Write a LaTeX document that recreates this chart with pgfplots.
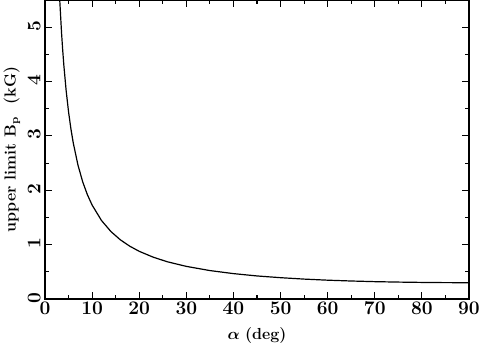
\documentclass[border=0pt]{standalone}
\usepackage{pgfplots}
\pgfplotsset{compat=1.18}
\usepackage{bm}

\begin{document}
\begin{tikzpicture}[x=1pt,y=1pt]
  \begin{axis}[
    scale only axis,
    width=318pt,
    height=224.25pt,
    xmin=0, xmax=90,
    ymin=0, ymax=5.5,
    xtick={0,10,...,90},
    ytick={0,1,...,5},
    minor x tick num=1,
    minor y tick num=1,
    tick align=inside,
    major tick length=5pt,
    minor tick length=3pt,
    axis line style={line width=1.1pt},
    every tick/.style={black, line width=0.8pt},
    ticklabel style={font=\bfseries\Large},
    xticklabel={$\mathbf{\pgfmathprintnumber{\tick}}$},
    yticklabel={$\mathbf{\pgfmathprintnumber{\tick}}$},
    xticklabel style={yshift=1pt},
    yticklabel style={rotate=90, anchor=south, xshift=1pt},
    xlabel={$\bm{\alpha}$ \textbf{(deg)}},
    ylabel={\textbf{upper limit B$_{\mathbf{p}}$\ \ (kG)}},
    label style={font=\large},
    xlabel style={yshift=-3pt},
    ylabel style={yshift=-1pt},
    clip=true,
  ]
    \addplot[black, line width=0.9pt] coordinates {
      (3.1,5.547) (3.5,4.914) (3.75,4.587) (4,4.300) (4.5,3.824)
      (5,3.442) (5.5,3.130) (6,2.870) (7,2.462) (8,2.156) (9,1.918)
      (10,1.728) (12,1.443) (14,1.240) (16,1.088) (18,0.971)
      (20,0.877) (23,0.768) (26,0.684) (30,0.600) (35,0.523)
      (40,0.467) (45,0.424) (50,0.392) (55,0.366) (60,0.346)
      (65,0.331) (70,0.319) (75,0.311) (80,0.305) (85,0.301) (90,0.300)
    };
  \end{axis}
  \pgfresetboundingbox
  \path[use as bounding box] ([xshift=-33.75pt,yshift=-39.75pt]current axis.south west)
    rectangle ([xshift=9pt]current axis.north east);
\end{tikzpicture}
\end{document}
